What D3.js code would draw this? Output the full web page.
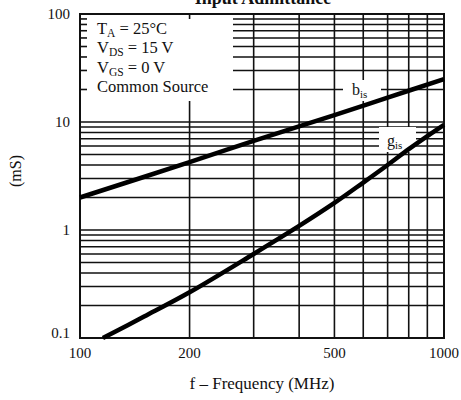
<!DOCTYPE html>
<html>
<head>
<meta charset="utf-8">
<script src="https://cdn.jsdelivr.net/npm/d3@7"></script>
<style>
  body { margin: 0; background: #fff; }
  text { font-family: "Liberation Serif", "Times New Roman", serif; fill: #111; }
</style>
</head>
<body>
<svg id="chart" width="461" height="400"></svg>
<script>
// values (frequency MHz -> mS)
var bisFreq = [100, 200, 300, 500, 700, 1000];
var bisVal  = [2.0, 4.25, 6.7, 11.6, 16.8, 25];
var gisFreq = [115.6, 150, 200, 300, 400, 500, 600, 700, 800, 900, 1000];
var gisVal  = [0.1, 0.158, 0.265, 0.6, 1.09, 1.78, 2.75, 4.0, 5.6, 7.4, 9.4];
var xTickLabels = [100, 200, 500, 1000];
var yTickLabels = [0.1, 1, 10, 100];
var legendLines = [["T", "A", " = 25°C"], ["V", "DS", " = 15 V"], ["V", "GS", " = 0 V"], ["Common Source", "", ""]];

var pLeft = 80, pRight = 444, pTop = 14, pBottom = 338;
var svg = d3.select("#chart");

var x = d3.scaleLog().domain([100, 1000]).range([pLeft, pRight]);
var y = d3.scaleLog().domain([0.1, 100]).range([pBottom, pTop]);

// grid
var grid = svg.append("g").attr("stroke", "#111").attr("stroke-width", 1.6);
grid.selectAll(".vg").data(x.ticks()).enter().append("line")
    .attr("x1", function (d) { return x(d); }).attr("x2", function (d) { return x(d); })
    .attr("y1", pTop).attr("y2", pBottom);
grid.selectAll(".hg").data(y.ticks()).enter().append("line")
    .attr("x1", pLeft).attr("x2", pRight)
    .attr("y1", function (d) { return y(d); }).attr("y2", function (d) { return y(d); });

// legend box knocks out the grid
var boxRight = 233, boxBottom = 101;
svg.append("rect").attr("x", pLeft + 1).attr("y", pTop + 1)
    .attr("width", boxRight - pLeft - 1).attr("height", boxBottom - pTop - 1).attr("fill", "#fff");
// little ticks left inside the box
svg.append("g").attr("stroke", "#111").attr("stroke-width", 1.6)
    .selectAll("line").data(y.ticks().filter(function (d) { return y(d) < boxBottom && d < 100; }))
    .enter().append("line")
    .attr("x1", pLeft).attr("x2", pLeft + 7)
    .attr("y1", function (d) { return y(d); }).attr("y2", function (d) { return y(d); });
svg.append("line").attr("stroke", "#111").attr("stroke-width", 1.6)
    .attr("x1", x(200)).attr("x2", x(200)).attr("y1", pTop).attr("y2", pTop + 5);

var leg = svg.append("g").attr("font-size", 16.5);
legendLines.forEach(function (l, i) {
    var t = leg.append("text").attr("x", 97).attr("y", 34 + i * 19.3);
    t.append("tspan").text(l[0]);
    if (l[1]) t.append("tspan").attr("font-size", 11.5).attr("dy", 3).text(l[1]);
    t.append("tspan").attr("dy", l[1] ? -3 : 0).text(l[2]);
});

// frame
svg.append("rect").attr("x", pLeft).attr("y", pTop)
    .attr("width", pRight - pLeft).attr("height", pBottom - pTop)
    .attr("fill", "none").attr("stroke", "#111").attr("stroke-width", 2);

// label backgrounds
svg.append("rect").attr("x", 343).attr("y", 80).attr("width", 38).attr("height", 21).attr("fill", "#fff");
svg.append("rect").attr("x", 379).attr("y", 127).attr("width", 37).attr("height", 25).attr("fill", "#fff");

// curves
var line = d3.line()
    .x(function (d) { return x(d[0]); })
    .y(function (d) { return y(d[1]); })
    .curve(d3.curveCatmullRom.alpha(0.5));
svg.append("path").datum(d3.zip(bisFreq, bisVal)).attr("d", line)
    .attr("fill", "none").attr("stroke", "#000").attr("stroke-width", 4.5);
svg.append("path").datum(d3.zip(gisFreq, gisVal)).attr("d", line)
    .attr("fill", "none").attr("stroke", "#000").attr("stroke-width", 4.5);

function subLabel(px, py, main, sub) {
    var t = svg.append("text").attr("x", px).attr("y", py).attr("font-size", 16);
    t.append("tspan").text(main);
    t.append("tspan").attr("font-size", 11).attr("dy", 3).text(sub);
}
subLabel(352, 95, "b", "is");
subLabel(387, 146, "g", "is");

// tick labels
svg.selectAll(".xl").data(xTickLabels).enter().append("text")
    .attr("x", function (d) { return x(d); }).attr("y", 358)
    .attr("text-anchor", "middle").attr("font-size", 15)
    .text(function (d) { return d; });
svg.selectAll(".yl").data(yTickLabels).enter().append("text")
    .attr("x", 70).attr("y", function (d) { return Math.min(y(d), 333) + 5; })
    .attr("text-anchor", "end").attr("font-size", 15)
    .text(function (d) { return d; });

// titles
svg.append("text").attr("x", 263).attr("y", 4).attr("text-anchor", "middle")
    .attr("font-size", 18).attr("font-weight", "bold").text("Input Admittance");
svg.append("text").attr("x", 262).attr("y", 389).attr("text-anchor", "middle")
    .attr("font-size", 17).text("f – Frequency (MHz)");
svg.append("text").attr("transform", "translate(21,171) rotate(-90)")
    .attr("text-anchor", "middle").attr("font-size", 16).text("(mS)");
</script>
</body>
</html>
